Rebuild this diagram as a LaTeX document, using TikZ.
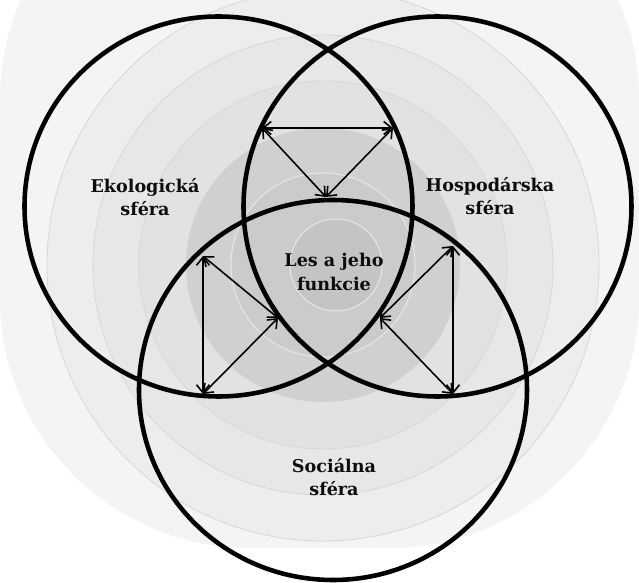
\documentclass[tikz,border=0pt]{standalone}
\usepackage{tikz}
\usetikzlibrary{arrows.meta}
\usepackage{xcolor}
\usepackage{fontspec}
\setmainfont{DejaVu Serif}
\definecolor{bgfaint}{RGB}{244,244,244}
\definecolor{ringa}{RGB}{237,237,237}
\definecolor{ringb}{RGB}{231,231,231}
\definecolor{ringc}{RGB}{226,226,226}
\definecolor{ringd}{RGB}{208,208,208}
\definecolor{ringe}{RGB}{203,203,203}
\definecolor{ringf}{RGB}{196,196,196}
\definecolor{ringline}{RGB}{216,216,216}
\definecolor{ringlight}{RGB}{230,230,230}

\begin{document}
\begin{tikzpicture}[
  sphere/.style={draw=black, line width=2.6pt},
  arr/.style={{Straight Barb[length=1.6mm,width=2.6mm]}-{Straight Barb[length=1.6mm,width=2.6mm]},
              black, line width=0.9pt},
  lbl/.style={font=\fontsize{10}{13.2}\selectfont\bfseries, align=center, text=black!95}
]
\useasboundingbox (-6.46,-6.36) rectangle (6.32,5.30);
\clip (-6.46,-6.36) rectangle (6.32,5.30);
\fill[white] (-6.46,-6.36) rectangle (6.32,5.30);
\fill[bgfaint, rounded corners=5cm] (-6.46,-5.66) rectangle (6.32,8.30);

% concentric background rings
\foreach \r/\c in {5.52/ringa, 4.60/ringb, 3.68/ringc}
  \draw[ringline, fill=\c, line width=0.5pt] (0,0) circle (\r);
\fill[ringd] (0,0) circle (2.74);
\draw[ringlight, fill=ringe, line width=0.6pt] (0,0) circle (1.84);
\draw[ringlight, fill=ringf, line width=0.6pt] (0.26,0) circle (0.92);

% the three spheres
\coordinate (eko)  at (-2.09,1.17);
\coordinate (hosp) at (2.29,1.17);
\coordinate (soc)  at (0.20,-2.50);
\draw[sphere] (eko)  ellipse [x radius=3.88, y radius=3.80];
\draw[sphere] (hosp) ellipse [x radius=3.88, y radius=3.80];
\draw[sphere] (soc)  ellipse [x radius=3.88, y radius=3.80];

% arrow corners
\coordinate (tl) at (-1.22,2.74);
\coordinate (tr) at (1.40,2.74);
\coordinate (tb) at (0.06,1.36);
\coordinate (la) at (-2.40,0.18);
\coordinate (lc) at (-2.40,-2.58);
\coordinate (ld) at (-0.90,-1.06);
\coordinate (ra) at (2.60,0.38);
\coordinate (rc) at (2.60,-2.58);
\coordinate (rd) at (1.14,-1.06);

\draw[arr] (tl)--(tr); \draw[arr] (tl)--(tb); \draw[arr] (tr)--(tb);
\draw[arr] (la)--(lc); \draw[arr] (la)--(ld); \draw[arr] (lc)--(ld);
\draw[arr] (ra)--(rc); \draw[arr] (ra)--(rd); \draw[arr] (rc)--(rd);

\node[lbl] (ekotxt)  at (-3.56,1.35) {Ekologická\\sféra};
\node[lbl] (hosptxt) at (3.34,1.38)  {Hospodárska\\sféra};
\node[lbl] (lestxt)  at (0.22,-0.14) {Les a jeho\\funkcie};
\node[lbl] (soctxt)  at (0.22,-4.24) {Sociálna\\sféra};
\end{tikzpicture}
\end{document}
